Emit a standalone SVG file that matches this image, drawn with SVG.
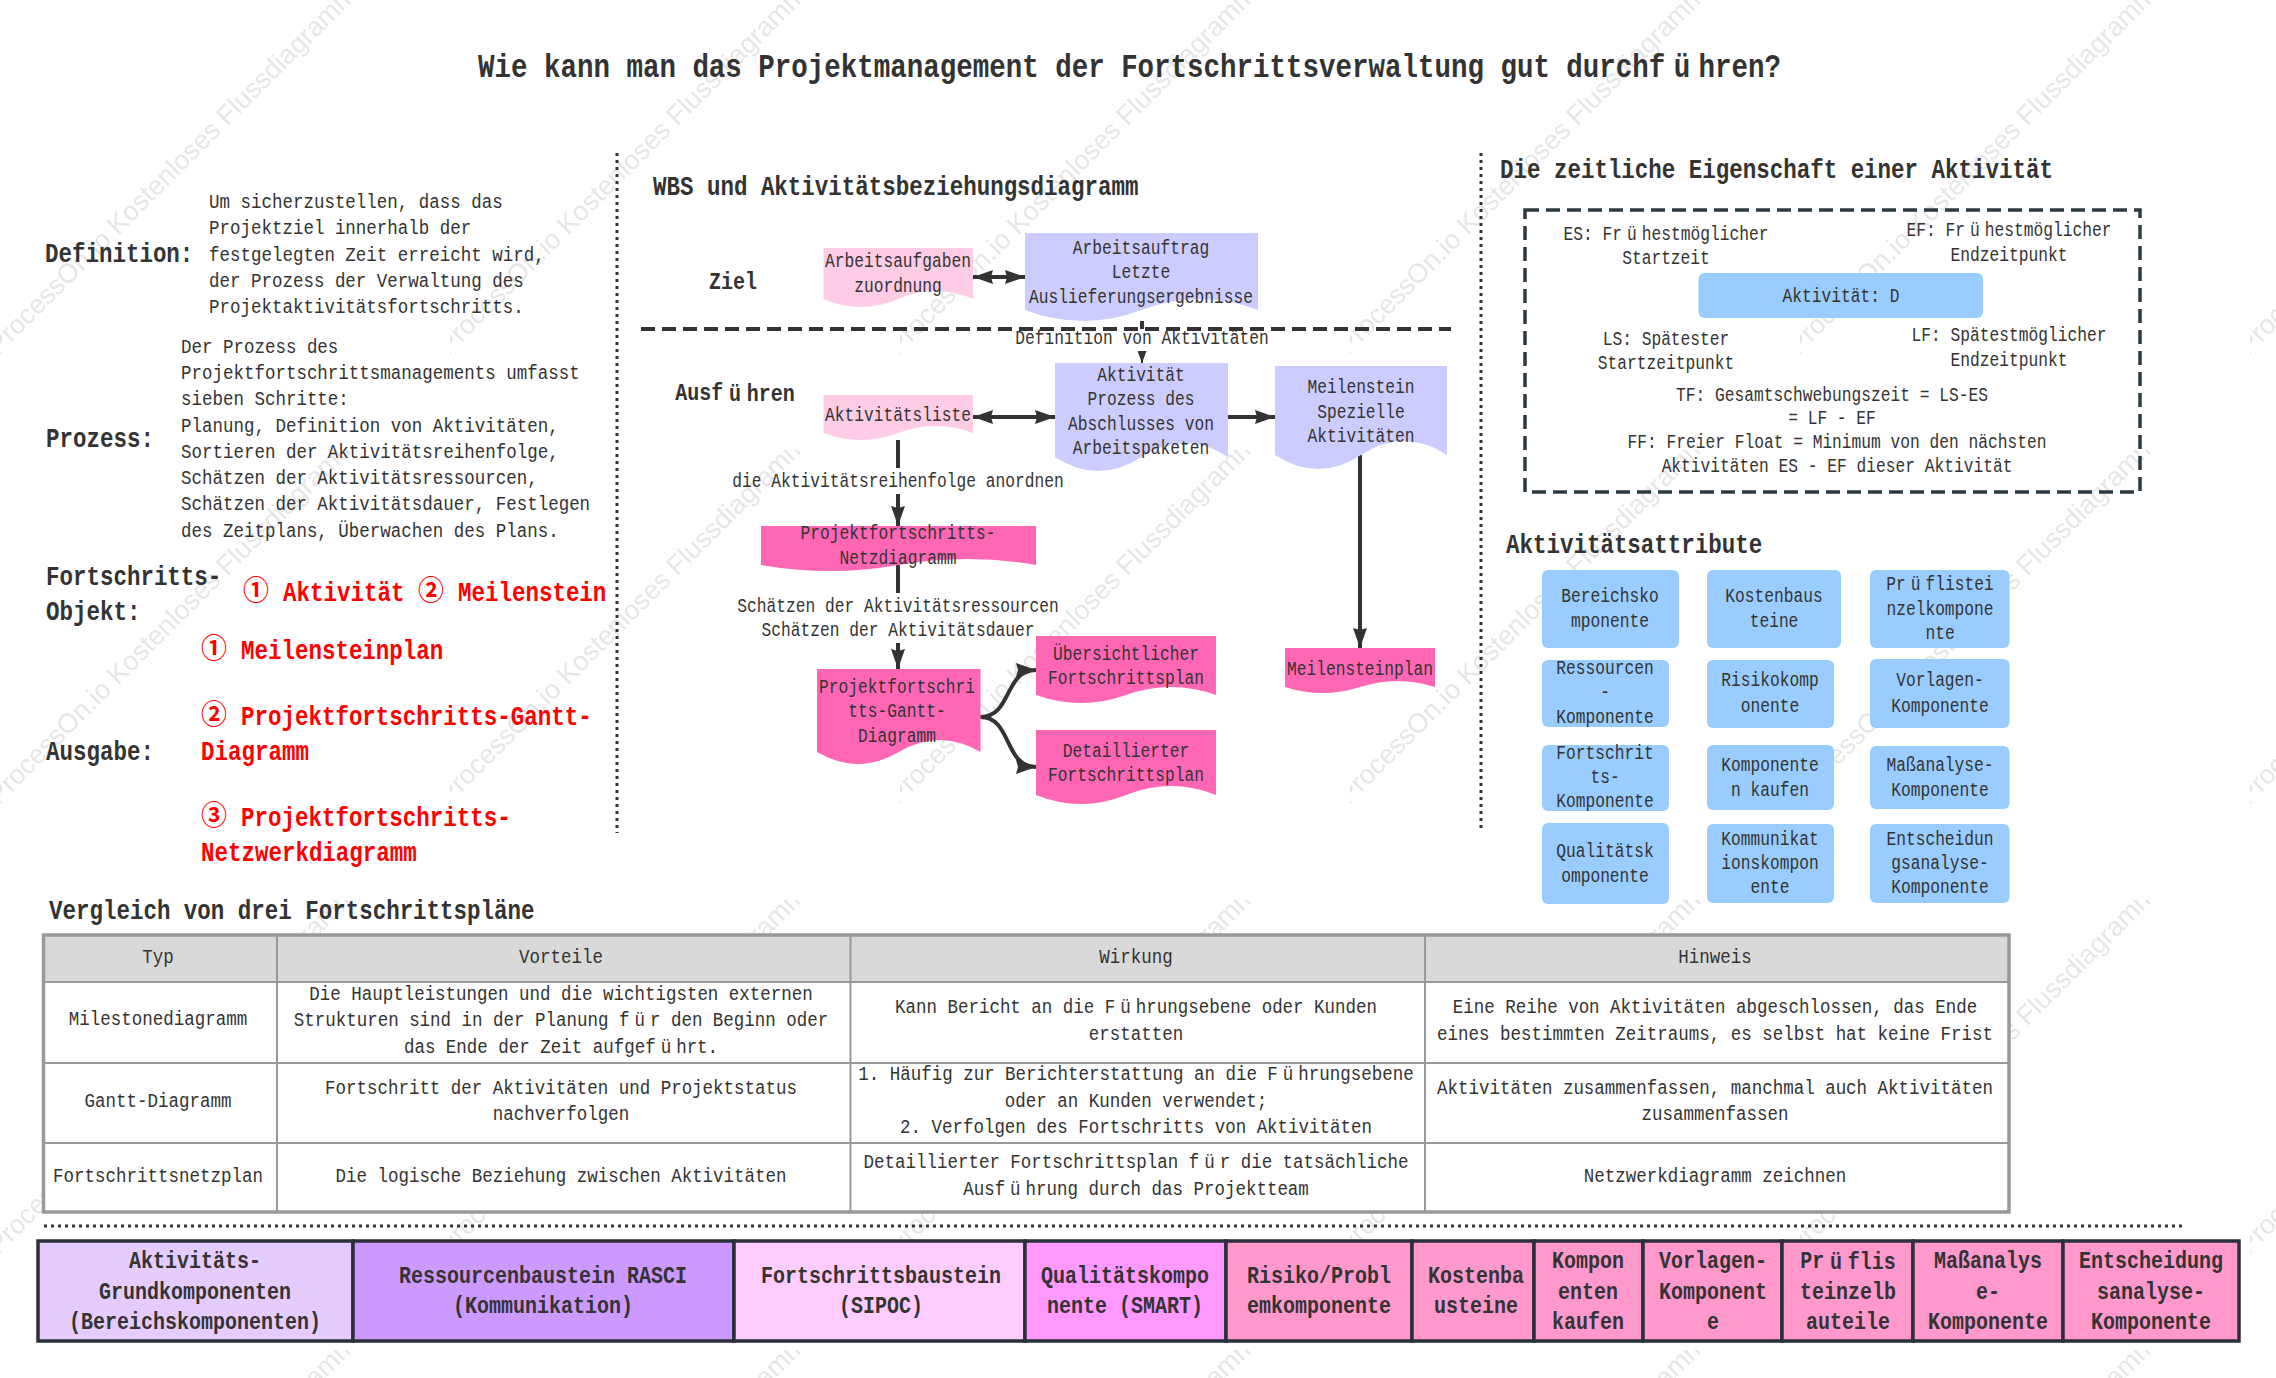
<svg xmlns="http://www.w3.org/2000/svg" width="2276" height="1378" viewBox="0 0 2276 1378">
<style>
text{font-family:"Liberation Mono","Noto Sans CJK SC",monospace;fill:#333;dominant-baseline:central;white-space:pre}
.m{text-anchor:middle}
.a{font-size:21px}
.f{font-size:19.5px}
.h{font-size:27px;font-weight:bold}
.u{font-size:24px;font-weight:bold}
.r{font-size:27px;font-weight:bold;fill:#f00}
.wm{font-family:"Liberation Sans",sans-serif;font-size:27px;fill:#e6e6e6;dominant-baseline:auto}
.pink{fill:#ffcce6}.lav{fill:#ccf}.hot{fill:#ff66b3}
.blue{fill:#9cf}
.c{fill:none;stroke:#333;stroke-width:4}
.dot{fill:none;stroke:#333;stroke-width:3;stroke-dasharray:3 4}
.band{stroke:#2b2f3a;stroke-width:3.5}
</style>
<defs>
<pattern id="wmark" width="450" height="450" patternUnits="userSpaceOnUse">
<text class="wm" text-anchor="middle" transform="translate(178 176) rotate(-45)">ProcessOn.io Kostenloses Flussdiagramm</text>
</pattern>
<marker id="ah" markerUnits="userSpaceOnUse" markerWidth="20" markerHeight="14" refX="20" refY="7" orient="auto-start-reverse"><path d="M0 0L20 7L0 14L2 7Z" fill="#333"/></marker>
<marker id="ahs" markerUnits="userSpaceOnUse" markerWidth="12" markerHeight="9" refX="12" refY="4.5" orient="auto"><path d="M0 0L12 4.5L0 9Z" fill="#333"/></marker>
</defs>
<rect width="2276" height="1378" fill="#fff"/>
<rect id="watermark" width="2276" height="1378" fill="url(#wmark)"/>

<text id="title" class="h" style="font-size:33px" transform="translate(478 68) scale(.833 1)">Wie kann man das Projektmanagement der Fortschrittsverwaltung gut durchf<tspan dx="10">ü</tspan><tspan dx="10">hren?</tspan></text>

<g id="intro">
<text class="h" transform="translate(45 254) scale(.833 1)">Definition:</text>
<text class="a" transform="translate(209 203) scale(.833 1)">Um sicherzustellen, dass das</text>
<text class="a" transform="translate(209 229) scale(.833 1)">Projektziel innerhalb der</text>
<text class="a" transform="translate(209 256) scale(.833 1)">festgelegten Zeit erreicht wird,</text>
<text class="a" transform="translate(209 282) scale(.833 1)">der Prozess der Verwaltung des</text>
<text class="a" transform="translate(209 308) scale(.833 1)">Projektaktivitätsfortschritts.</text>
<text class="h" transform="translate(46 439) scale(.833 1)">Prozess:</text>
<text class="a" transform="translate(181 348) scale(.833 1)">Der Prozess des</text>
<text class="a" transform="translate(181 374) scale(.833 1)">Projektfortschrittsmanagements umfasst</text>
<text class="a" transform="translate(181 400) scale(.833 1)">sieben Schritte:</text>
<text class="a" transform="translate(181 427) scale(.833 1)">Planung, Definition von Aktivitäten,</text>
<text class="a" transform="translate(181 453) scale(.833 1)">Sortieren der Aktivitätsreihenfolge,</text>
<text class="a" transform="translate(181 479) scale(.833 1)">Schätzen der Aktivitätsressourcen,</text>
<text class="a" transform="translate(181 505) scale(.833 1)">Schätzen der Aktivitätsdauer, Festlegen</text>
<text class="a" transform="translate(181 532) scale(.833 1)">des Zeitplans, Überwachen des Plans.</text>
<text class="h" transform="translate(46 577) scale(.833 1)">Fortschritts-</text>
<text class="h" transform="translate(46 612) scale(.833 1)">Objekt:</text>
<text class="r" transform="translate(243 593) scale(.96 1)">①</text>
<text class="r" transform="translate(283 593) scale(.833 1)">Aktivität</text>
<text class="r" transform="translate(418 593) scale(.96 1)">②</text>
<text class="r" transform="translate(458 593) scale(.833 1)">Meilenstein</text>
<text class="r" transform="translate(201 651) scale(.96 1)">①</text>
<text class="r" transform="translate(241 651) scale(.833 1)">Meilensteinplan</text>
<text class="r" transform="translate(201 717) scale(.96 1)">②</text>
<text class="r" transform="translate(241 717) scale(.833 1)">Projektfortschritts-Gantt-</text>
<text class="r" transform="translate(201 752) scale(.833 1)">Diagramm</text>
<text class="h" transform="translate(46 752) scale(.833 1)">Ausgabe:</text>
<text class="r" transform="translate(201 818) scale(.96 1)">③</text>
<text class="r" transform="translate(241 818) scale(.833 1)">Projektfortschritts-</text>
<text class="r" transform="translate(201 853) scale(.833 1)">Netzwerkdiagramm</text>
</g>

<g id="connectors">
<path class="dot" d="M617 153V833"/>
<path class="dot" d="M1481 153V832"/>
<path class="dot" d="M44 1226H2185"/>
<path class="c" stroke-dasharray="14 7" d="M641 329H1451"/>
<path class="c" marker-start="url(#ah)" marker-end="url(#ah)" d="M973 277H1025"/>
<path class="c" d="M1142 321V329"/>
<path class="c" style="stroke-width:2" marker-end="url(#ahs)" d="M1142 351V363"/>
<path class="c" marker-start="url(#ah)" marker-end="url(#ah)" d="M973 417H1055"/>
<path class="c" marker-end="url(#ah)" d="M1228 417H1275"/>
<path class="c" d="M898 440V468"/>
<path class="c" marker-end="url(#ah)" d="M898 494V526"/>
<path class="c" d="M898 565V593"/>
<path class="c" marker-end="url(#ah)" d="M898 643V669"/>
<path class="c" marker-end="url(#ah)" d="M1360 455V648"/>
<path class="c" marker-end="url(#ah)" d="M980.5 717C1012 717 1004 670 1036 670"/>
<path class="c" marker-end="url(#ah)" d="M980.5 717C1012 717 1004 767 1036 767"/>
</g>

<text id="wbs-heading" class="h" transform="translate(653 187) scale(.833 1)">WBS und Aktivitätsbeziehungsdiagramm</text>
<text id="lbl-ziel" class="u m" transform="translate(733 283) scale(.833 1)">Ziel</text>
<text id="lbl-ausf" class="u m" transform="translate(735 394) scale(.833 1)">Ausf<tspan dx="7">ü</tspan><tspan dx="7">hren</tspan></text>
<text id="lbl-def" class="f m" transform="translate(1142 339) scale(.833 1)">Definition von Aktivitäten</text>
<text id="lbl-reihe" class="f m" transform="translate(898 482) scale(.833 1)">die Aktivitätsreihenfolge anordnen</text>
<g id="lbl-schaetzen">
<text class="f m" transform="translate(898 607) scale(.833 1)">Schätzen der Aktivitätsressourcen</text>
<text class="f m" transform="translate(898 631) scale(.833 1)">Schätzen der Aktivitätsdauer</text>
</g>

<g id="n-arbeitsaufgaben"><path class="pink" d="M823.5 248H973V299Q935.6 283 898.2 299T823.5 299Z"/>
<text class="f m" transform="translate(898 262) scale(.833 1)">Arbeitsaufgaben</text><text class="f m" transform="translate(898 287) scale(.833 1)">zuordnung</text></g>
<g id="n-arbeitsauftrag"><path class="lav" d="M1025 233H1258V310Q1199.8 288 1141.5 310T1025 310Z"/>
<text class="f m" transform="translate(1141 249) scale(.833 1)">Arbeitsauftrag</text><text class="f m" transform="translate(1141 273) scale(.833 1)">Letzte</text><text class="f m" transform="translate(1141 298) scale(.833 1)">Auslieferungsergebnisse</text></g>
<g id="n-liste"><path class="pink" d="M823.5 395H973V433Q935.6 419 898.2 433T823.5 433Z"/>
<text class="f m" transform="translate(898 416) scale(.833 1)">Aktivitätsliste</text></g>
<g id="n-aktivitaet"><path class="lav" d="M1055 363H1228V457Q1184.8 429 1141.5 457T1055 457Z"/>
<text class="f m" transform="translate(1141 376) scale(.833 1)">Aktivität</text><text class="f m" transform="translate(1141 400) scale(.833 1)">Prozess des</text><text class="f m" transform="translate(1141 425) scale(.833 1)">Abschlusses von</text><text class="f m" transform="translate(1141 449) scale(.833 1)">Arbeitspaketen</text></g>
<g id="n-meilenstein"><path class="lav" d="M1275 366H1447V455Q1404 427 1361 455T1275 455Z"/>
<text class="f m" transform="translate(1361 388) scale(.833 1)">Meilenstein</text><text class="f m" transform="translate(1361 413) scale(.833 1)">Spezielle</text><text class="f m" transform="translate(1361 437) scale(.833 1)">Aktivitäten</text></g>
<g id="n-netz"><path class="hot" d="M761 526H1036V565Q967 553 898.5 565T761 565Z"/>
<text class="f m" transform="translate(898 534) scale(.833 1)">Projektfortschritts-</text><text class="f m" transform="translate(898 559) scale(.833 1)">Netzdiagramm</text></g>
<g id="n-gantt"><path class="hot" d="M817 669H980.5V752Q939.6 728 898.8 752T817 752Z"/>
<text class="f m" transform="translate(897 688) scale(.833 1)">Projektfortschri</text><text class="f m" transform="translate(897 712) scale(.833 1)">tts-Gantt-</text><text class="f m" transform="translate(897 737) scale(.833 1)">Diagramm</text></g>
<g id="n-uebersicht"><path class="hot" d="M1036 636H1216V695Q1171 679 1126 695T1036 695Z"/>
<text class="f m" transform="translate(1126 655) scale(.833 1)">Übersichtlicher</text><text class="f m" transform="translate(1126 679) scale(.833 1)">Fortschrittsplan</text></g>
<g id="n-detail"><path class="hot" d="M1036 730H1216V795Q1171 777 1126 795T1036 795Z"/>
<text class="f m" transform="translate(1126 752) scale(.833 1)">Detaillierter</text><text class="f m" transform="translate(1126 776) scale(.833 1)">Fortschrittsplan</text></g>
<g id="n-meilensteinplan"><path class="hot" d="M1285 648H1435V687Q1397.5 675 1360 687T1285 687Z"/>
<text class="f m" transform="translate(1360 670) scale(.833 1)">Meilensteinplan</text></g>

<g id="zeit">
<text class="h" transform="translate(1500 170) scale(.833 1)">Die zeitliche Eigenschaft einer Aktivität</text>
<rect x="1525" y="210" width="615" height="282" fill="none" stroke="#2e3a40" stroke-width="3.5" stroke-dasharray="14 7"/>
<text class="f m" transform="translate(1666 235) scale(.833 1)">ES: Fr<tspan dx="6">ü</tspan><tspan dx="6">hestmöglicher</tspan></text>
<text class="f m" transform="translate(1666 259) scale(.833 1)">Startzeit</text>
<text class="f m" transform="translate(2009 231) scale(.833 1)">EF: Fr<tspan dx="6">ü</tspan><tspan dx="6">hestmöglicher</tspan></text>
<text class="f m" transform="translate(2009 256) scale(.833 1)">Endzeitpunkt</text>
<rect class="blue" x="1698.5" y="273" width="284.5" height="45" rx="6"/>
<text class="f m" transform="translate(1841 297) scale(.833 1)">Aktivität: D</text>
<text class="f m" transform="translate(1666 340) scale(.833 1)">LS: Spätester</text>
<text class="f m" transform="translate(1666 364) scale(.833 1)">Startzeitpunkt</text>
<text class="f m" transform="translate(2009 336) scale(.833 1)">LF: Spätestmöglicher</text>
<text class="f m" transform="translate(2009 361) scale(.833 1)">Endzeitpunkt</text>
<text class="f m" transform="translate(1832 396) scale(.833 1)">TF: Gesamtschwebungszeit = LS-ES</text>
<text class="f m" transform="translate(1832 419) scale(.833 1)">= LF - EF</text>
<text class="f m" transform="translate(1837 443) scale(.833 1)">FF: Freier Float = Minimum von den nächsten</text>
<text class="f m" transform="translate(1837 467) scale(.833 1)">Aktivitäten ES - EF dieser Aktivität</text>
</g>

<text id="attr-heading" class="h" transform="translate(1506 545) scale(.833 1)">Aktivitätsattribute</text>
<g id="a-bereich"><rect class="blue" x="1542" y="570" width="137" height="78" rx="6"/><text class="f m" transform="translate(1610 597) scale(.833 1)">Bereichsko</text><text class="f m" transform="translate(1610 622) scale(.833 1)">mponente</text></g>
<g id="a-kosten"><rect class="blue" x="1707" y="570" width="134" height="78" rx="6"/><text class="f m" transform="translate(1774 597) scale(.833 1)">Kostenbaus</text><text class="f m" transform="translate(1774 622) scale(.833 1)">teine</text></g>
<g id="a-pruef"><rect class="blue" x="1870" y="570" width="139.5" height="78" rx="6"/><text class="f m" transform="translate(1940 585) scale(.833 1)">Pr<tspan dx="6">ü</tspan><tspan dx="6">flistei</tspan></text><text class="f m" transform="translate(1940 610) scale(.833 1)">nzelkompone</text><text class="f m" transform="translate(1940 634) scale(.833 1)">nte</text></g>
<g id="a-ress"><rect class="blue" x="1542" y="660" width="127" height="67" rx="6"/><text class="f m" transform="translate(1605 669) scale(.833 1)">Ressourcen</text><text class="f m" transform="translate(1605 693) scale(.833 1)">-</text><text class="f m" transform="translate(1605 718) scale(.833 1)">Komponente</text></g>
<g id="a-risiko"><rect class="blue" x="1707" y="660" width="127" height="68" rx="6"/><text class="f m" transform="translate(1770 681) scale(.833 1)">Risikokomp</text><text class="f m" transform="translate(1770 707) scale(.833 1)">onente</text></g>
<g id="a-vorlagen"><rect class="blue" x="1870" y="659" width="139.5" height="69" rx="6"/><text class="f m" transform="translate(1940 681) scale(.833 1)">Vorlagen-</text><text class="f m" transform="translate(1940 707) scale(.833 1)">Komponente</text></g>
<g id="a-fort"><rect class="blue" x="1542" y="745" width="127" height="66" rx="6"/><text class="f m" transform="translate(1605 754) scale(.833 1)">Fortschrit</text><text class="f m" transform="translate(1605 778) scale(.833 1)">ts-</text><text class="f m" transform="translate(1605 802) scale(.833 1)">Komponente</text></g>
<g id="a-kaufen"><rect class="blue" x="1707" y="745" width="127" height="65" rx="6"/><text class="f m" transform="translate(1770 766) scale(.833 1)">Komponente</text><text class="f m" transform="translate(1770 791) scale(.833 1)">n kaufen</text></g>
<g id="a-mass"><rect class="blue" x="1870" y="746" width="139.5" height="63" rx="6"/><text class="f m" transform="translate(1940 766) scale(.833 1)">Maßanalyse-</text><text class="f m" transform="translate(1940 791) scale(.833 1)">Komponente</text></g>
<g id="a-qual"><rect class="blue" x="1542" y="823" width="127" height="81" rx="6"/><text class="f m" transform="translate(1605 852) scale(.833 1)">Qualitätsk</text><text class="f m" transform="translate(1605 877) scale(.833 1)">omponente</text></g>
<g id="a-komm"><rect class="blue" x="1707" y="824" width="127" height="79" rx="6"/><text class="f m" transform="translate(1770 840) scale(.833 1)">Kommunikat</text><text class="f m" transform="translate(1770 864) scale(.833 1)">ionskompon</text><text class="f m" transform="translate(1770 888) scale(.833 1)">ente</text></g>
<g id="a-entsch"><rect class="blue" x="1870" y="824" width="139.5" height="79" rx="6"/><text class="f m" transform="translate(1940 840) scale(.833 1)">Entscheidun</text><text class="f m" transform="translate(1940 864) scale(.833 1)">gsanalyse-</text><text class="f m" transform="translate(1940 888) scale(.833 1)">Komponente</text></g>

<text id="table-heading" class="h" transform="translate(49 911) scale(.833 1)">Vergleich von drei Fortschrittspläne</text>
<g id="table">
<rect x="43.5" y="935" width="1965.5" height="47" fill="#d9d9d9"/>
<rect x="43.5" y="982" width="1965.5" height="230" fill="#fff"/>
<path fill="none" stroke="#999" stroke-width="2" d="M277 935V1212M850.5 935V1212M1425 935V1212M43.5 982H2009M43.5 1063H2009M43.5 1143H2009"/>
<rect x="43.5" y="935" width="1965.5" height="277" fill="none" stroke="#999" stroke-width="3.5"/>
<text class="a m" transform="translate(158 958) scale(.833 1)">Typ</text>
<text class="a m" transform="translate(561 958) scale(.833 1)">Vorteile</text>
<text class="a m" transform="translate(1136 958) scale(.833 1)">Wirkung</text>
<text class="a m" transform="translate(1715 958) scale(.833 1)">Hinweis</text>
<text class="a m" transform="translate(158 1020) scale(.833 1)">Milestonediagramm</text>
<text class="a m" transform="translate(561 995) scale(.833 1)">Die Hauptleistungen und die wichtigsten externen</text>
<text class="a m" transform="translate(561 1021) scale(.833 1)">Strukturen sind in der Planung f<tspan dx="6">ü</tspan><tspan dx="6">r den Beginn oder</tspan></text>
<text class="a m" transform="translate(561 1048) scale(.833 1)">das Ende der Zeit aufgef<tspan dx="6">ü</tspan><tspan dx="6">hrt.</tspan></text>
<text class="a m" transform="translate(1136 1008) scale(.833 1)">Kann Bericht an die F<tspan dx="6">ü</tspan><tspan dx="6">hrungsebene oder Kunden</tspan></text>
<text class="a m" transform="translate(1136 1035) scale(.833 1)">erstatten</text>
<text class="a m" transform="translate(1715 1008) scale(.833 1)">Eine Reihe von Aktivitäten abgeschlossen, das Ende</text>
<text class="a m" transform="translate(1715 1035) scale(.833 1)">eines bestimmten Zeitraums, es selbst hat keine Frist</text>
<text class="a m" transform="translate(158 1102) scale(.833 1)">Gantt-Diagramm</text>
<text class="a m" transform="translate(561 1089) scale(.833 1)">Fortschritt der Aktivitäten und Projektstatus</text>
<text class="a m" transform="translate(561 1115) scale(.833 1)">nachverfolgen</text>
<text class="a m" transform="translate(1136 1075) scale(.833 1)">1. Häufig zur Berichterstattung an die F<tspan dx="6">ü</tspan><tspan dx="6">hrungsebene</tspan></text>
<text class="a m" transform="translate(1136 1102) scale(.833 1)">oder an Kunden verwendet;</text>
<text class="a m" transform="translate(1136 1128) scale(.833 1)">2. Verfolgen des Fortschritts von Aktivitäten</text>
<text class="a m" transform="translate(1715 1089) scale(.833 1)">Aktivitäten zusammenfassen, manchmal auch Aktivitäten</text>
<text class="a m" transform="translate(1715 1115) scale(.833 1)">zusammenfassen</text>
<text class="a m" transform="translate(158 1177) scale(.833 1)">Fortschrittsnetzplan</text>
<text class="a m" transform="translate(561 1177) scale(.833 1)">Die logische Beziehung zwischen Aktivitäten</text>
<text class="a m" transform="translate(1136 1163) scale(.833 1)">Detaillierter Fortschrittsplan f<tspan dx="6">ü</tspan><tspan dx="6">r die tatsächliche</tspan></text>
<text class="a m" transform="translate(1136 1190) scale(.833 1)">Ausf<tspan dx="6">ü</tspan><tspan dx="6">hrung durch das Projektteam</tspan></text>
<text class="a m" transform="translate(1715 1177) scale(.833 1)">Netzwerkdiagramm zeichnen</text>
</g>

<g id="b1"><rect class="band" x="38" y="1241" width="315" height="100" fill="#e5ccff"/><text class="u m" transform="translate(195 1262) scale(.833 1)">Aktivitäts-</text><text class="u m" transform="translate(195 1293) scale(.833 1)">Grundkomponenten</text><text class="u m" transform="translate(195 1323) scale(.833 1)">(Bereichskomponenten)</text></g>
<g id="b2"><rect class="band" x="353" y="1241" width="381" height="100" fill="#c9f"/><text class="u m" transform="translate(543 1277) scale(.833 1)">Ressourcenbaustein RASCI</text><text class="u m" transform="translate(543 1307) scale(.833 1)">(Kommunikation)</text></g>
<g id="b3"><rect class="band" x="734" y="1241" width="291" height="100" fill="#fcf"/><text class="u m" transform="translate(881 1277) scale(.833 1)">Fortschrittsbaustein</text><text class="u m" transform="translate(881 1307) scale(.833 1)">(SIPOC)</text></g>
<g id="b4"><rect class="band" x="1025" y="1241" width="201" height="100" fill="#f9f"/><text class="u m" transform="translate(1125 1277) scale(.833 1)">Qualitätskompo</text><text class="u m" transform="translate(1125 1307) scale(.833 1)">nente (SMART)</text></g>
<g id="b5"><rect class="band" x="1226" y="1241" width="186" height="100" fill="#f9c"/><text class="u m" transform="translate(1319 1277) scale(.833 1)">Risiko/Probl</text><text class="u m" transform="translate(1319 1307) scale(.833 1)">emkomponente</text></g>
<g id="b6"><rect class="band" x="1412" y="1241" width="122" height="100" fill="#f9c"/><text class="u m" transform="translate(1476 1277) scale(.833 1)">Kostenba</text><text class="u m" transform="translate(1476 1307) scale(.833 1)">usteine</text></g>
<g id="b7"><rect class="band" x="1534" y="1241" width="109" height="100" fill="#f9c"/><text class="u m" transform="translate(1588 1262) scale(.833 1)">Kompon</text><text class="u m" transform="translate(1588 1293) scale(.833 1)">enten</text><text class="u m" transform="translate(1588 1323) scale(.833 1)">kaufen</text></g>
<g id="b8"><rect class="band" x="1643" y="1241" width="139" height="100" fill="#f9c"/><text class="u m" transform="translate(1713 1262) scale(.833 1)">Vorlagen-</text><text class="u m" transform="translate(1713 1293) scale(.833 1)">Komponent</text><text class="u m" transform="translate(1713 1323) scale(.833 1)">e</text></g>
<g id="b9"><rect class="band" x="1782" y="1241" width="131" height="100" fill="#f9c"/><text class="u m" transform="translate(1848 1262) scale(.833 1)">Pr<tspan dx="7">ü</tspan><tspan dx="7">flis</tspan></text><text class="u m" transform="translate(1848 1293) scale(.833 1)">teinzelb</text><text class="u m" transform="translate(1848 1323) scale(.833 1)">auteile</text></g>
<g id="b10"><rect class="band" x="1913" y="1241" width="150" height="100" fill="#f9c"/><text class="u m" transform="translate(1988 1262) scale(.833 1)">Maßanalys</text><text class="u m" transform="translate(1988 1293) scale(.833 1)">e-</text><text class="u m" transform="translate(1988 1323) scale(.833 1)">Komponente</text></g>
<g id="b11"><rect class="band" x="2063" y="1241" width="176" height="100" fill="#f9c"/><text class="u m" transform="translate(2151 1262) scale(.833 1)">Entscheidung</text><text class="u m" transform="translate(2151 1293) scale(.833 1)">sanalyse-</text><text class="u m" transform="translate(2151 1323) scale(.833 1)">Komponente</text></g>
</svg>
